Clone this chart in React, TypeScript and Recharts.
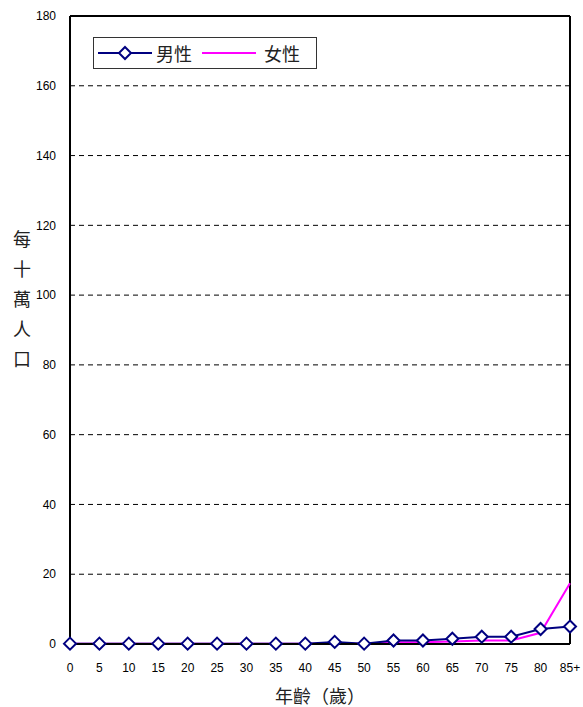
import { CartesianGrid, Line, LineChart, ReferenceLine, XAxis, YAxis } from 'recharts';

const ages = ['0', '5', '10', '15', '20', '25', '30', '35', '40', '45', '50', '55', '60', '65', '70', '75', '80', '85+'];
const male = [0.1, 0.1, 0.1, 0.1, 0.1, 0.1, 0.1, 0.1, 0.1, 0.6, 0.1, 1.0, 1.0, 1.5, 2.1, 2.1, 4.3, 5.0];
const female = [0.1, 0.1, 0.1, 0.1, 0.1, 0.1, 0.1, 0.1, 0.1, 0.1, 0.1, 0.5, 0.5, 0.7, 1.0, 1.0, 3.2, 17.4];
const yTicks = [0, 20, 40, 60, 80, 100, 120, 140, 160, 180];
const yLabel = ['每', '十', '萬', '人', '口'];

const data = ages.map((age, i) => ({ age, male: male[i], female: female[i] }));

const cjk = '"Noto Sans CJK TC", "Liberation Sans", sans-serif';
const navy = '#000080';
const magenta = '#ff00ff';

function Diamond(props: any) {
  const { cx, cy } = props;
  if (cx == null || cy == null) return null;
  const r = 6;
  return (
    <path
      d={`M${cx},${cy - r}L${cx + r},${cy}L${cx},${cy + r}L${cx - r},${cy}Z`}
      fill="#fff"
      stroke={navy}
      strokeWidth={2}
    />
  );
}

// legend drawn as plain html on top of the chart
function LegendBox() {
  return (
    <div
      style={{
        position: 'absolute',
        left: 93,
        top: 37,
        border: '1px solid #333',
        width: 224,
        height: 32,
        boxSizing: 'border-box',
        display: 'flex',
        alignItems: 'center',
        fontFamily: cjk,
        fontSize: 18,
        color: '#222',
        background: '#fff',
      }}
    >
      <svg width={56} height={20} style={{ marginLeft: 4 }}>
        <line x1={0} y1={10} x2={54} y2={10} stroke={navy} strokeWidth={2} />
        <path d="M27,4L33,10L27,16L21,10Z" fill="#fff" stroke={navy} strokeWidth={2} />
      </svg>
      <span style={{ marginLeft: 2 }}>男性</span>
      <svg width={56} height={20} style={{ marginLeft: 10 }}>
        <line x1={0} y1={10} x2={54} y2={10} stroke={magenta} strokeWidth={2} />
      </svg>
      <span style={{ marginLeft: 6 }}>女性</span>
    </div>
  );
}

function YLabel() {
  return (
    <g>
      {yLabel.map((ch, i) => (
        <text key={ch} x={22} y={246 + i * 30} textAnchor="middle" fontFamily={cjk} fontSize={18} fill="#222">
          {ch}
        </text>
      ))}
    </g>
  );
}

export default function App() {
  return (
    <div style={{ position: 'absolute', left: 0, top: 0, width: 583, height: 707, background: '#fff' }}>
      <LineChart width={583} height={707} data={data} margin={{ top: 16, right: 13, bottom: 0, left: 0 }}>
        <CartesianGrid vertical={false} stroke="#000" strokeDasharray="5 4" />
        <XAxis
          dataKey="age"
          height={63}
          axisLine={{ stroke: '#000', strokeWidth: 2 }}
          tickLine={false}
          tickMargin={13}
          interval={0}
          tick={{ fontSize: 12, fill: '#000', fontFamily: 'Liberation Sans, Arial' }}
          label={{
            value: '年齡（歲）',
            position: 'insideBottom',
            offset: 4,
            style: { fontFamily: cjk, fontSize: 18, fill: '#222' },
          }}
        />
        <YAxis
          domain={[0, 180]}
          ticks={yTicks}
          axisLine={{ stroke: '#000', strokeWidth: 2 }}
          tickLine={false}
          tickMargin={8}
          width={70}
          tick={{ fontSize: 12, fill: '#000', fontFamily: 'Liberation Sans, Arial' }}
          label={<YLabel />}
        />
        <ReferenceLine y={180} stroke="#000" strokeWidth={2} />
        <ReferenceLine x="85+" stroke="#000" strokeWidth={2} />
        <Line
          dataKey="female"
          stroke={magenta}
          strokeWidth={2}
          dot={false}
          isAnimationActive={false}
        />
        <Line
          dataKey="male"
          stroke={navy}
          strokeWidth={2}
          dot={<Diamond />}
          isAnimationActive={false}
        />
      </LineChart>
      <LegendBox />
    </div>
  );
}
